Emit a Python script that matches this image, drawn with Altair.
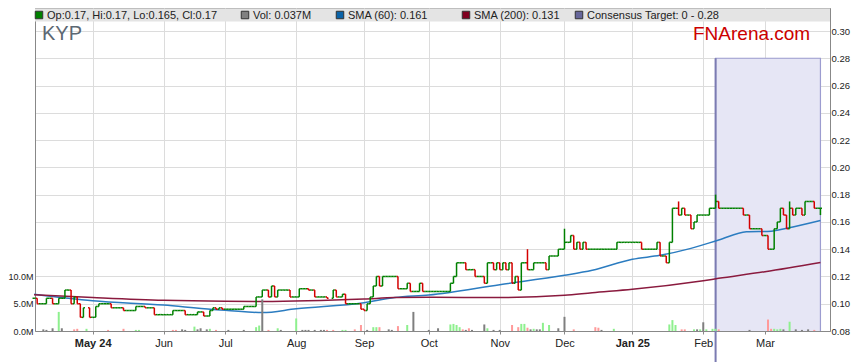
import altair as alt
import pandas as pd

# ---------------- data ----------------
dates = pd.bdate_range("2024-04-04", "2025-03-27")

close = [
    0.104, 0.100, 0.100, 0.100, 0.104, 0.104, 0.100, 0.100, 0.104, 0.104,   # 0-9
    0.110, 0.110, 0.100, 0.105, 0.100, 0.090, 0.097, None, 0.090, 0.090,    # 10-19
    0.098, 0.100, 0.100, 0.100, 0.100, 0.097, 0.097, 0.097, 0.097, 0.095,   # 20-29
    0.095, 0.095, 0.095, 0.098, 0.098, 0.098, 0.097, 0.097, 0.097, 0.092,   # 30-39
    0.092, 0.092, 0.092, 0.092, 0.092, 0.095, 0.095, 0.095, 0.095, 0.092,   # 40-49
    0.092, 0.092, 0.092, 0.094, 0.094, 0.091, 0.091, 0.095, 0.097, 0.096,   # 50-59
    0.097, 0.096, 0.096, 0.096, 0.096, 0.096, 0.096, 0.096, 0.098, 0.098,   # 60-69
    0.098, 0.098, 0.105, 0.105, 0.110, 0.110, 0.105, 0.113, 0.105, 0.110,   # 70-79
    0.110, 0.110, 0.110, 0.105, 0.105, 0.105, 0.111, 0.111, 0.111, 0.110,   # 80-89
    0.110, 0.105, 0.105, 0.105, 0.105, 0.104, None, 0.110, 0.105, 0.105,    # 90-99
    0.107, 0.100, 0.100, 0.100, 0.100, 0.100, 0.096, 0.095, 0.100, 0.105,   # 100-109
    0.113, 0.120, 0.113, 0.120, 0.120, 0.120, 0.120, 0.120, 0.111, 0.111,   # 110-119
    0.111, 0.115, 0.109, 0.109, 0.109, 0.115, 0.109, 0.109, 0.109, 0.109,   # 120-129
    0.109, 0.109, 0.109, 0.109, 0.109, 0.115, 0.120, 0.130, 0.130, 0.130,   # 130-139
    0.125, 0.125, 0.125, 0.120, 0.120, 0.120, 0.115, 0.130, 0.130, 0.125,   # 140-149
    0.130, 0.125, 0.130, 0.125, 0.130, 0.115, 0.120, 0.110, 0.130, 0.130,   # 150-159
    0.125, 0.125, 0.130, 0.130, 0.130, 0.130, 0.125, 0.135, 0.135, 0.135,   # 160-169
    0.140, 0.140, 0.145, 0.145, 0.150, 0.140, 0.145, 0.140, 0.145, 0.140,   # 170-179
    0.140, 0.140, 0.140, 0.140, 0.140, 0.140, 0.140, 0.140, 0.140, 0.145,   # 180-189
    0.145, 0.145, 0.145, 0.145, 0.145, 0.145, 0.145, 0.140, 0.140, 0.140,   # 190-199
    0.140, 0.140, 0.145, 0.135, 0.135, 0.130, 0.145, 0.170, 0.170, 0.165,   # 200-209
    0.170, 0.165, 0.165, 0.155, 0.160, 0.165, 0.165, 0.165, 0.165, 0.170,   # 210-219
    0.170, 0.175, 0.170, 0.170, 0.170, 0.170, 0.170, 0.170, 0.170, 0.170,   # 220-229
    0.165, 0.165, 0.155, 0.155, 0.155, 0.155, 0.150, 0.150, 0.140, 0.140,   # 230-239
    0.155, 0.160, 0.170, 0.165, 0.155, 0.170, 0.165, 0.170, 0.170, 0.165,   # 240-249
    0.175, 0.175, 0.175, 0.170, 0.170, 0.170,                               # 250-255
]
high_spikes = {160: 0.140, 172: 0.155, 175: 0.150, 209: 0.175, 221: 0.180, 245: 0.175}
low_spikes = {255: 0.165}

sma60_idx = [0, 19, 42, 58, 62, 74, 85, 107, 117, 128, 151, 172, 181, 194, 203, 213, 222, 231, 239, 244, 255]
sma60_val = [0.107, 0.1022, 0.099, 0.0957, 0.0952, 0.0935, 0.0963, 0.1008, 0.1045, 0.1064, 0.114,
             0.1208, 0.1245, 0.1326, 0.1355, 0.1406, 0.1467, 0.1528, 0.1532, 0.1553, 0.161]

sma200_idx = [0, 19, 42, 62, 74, 107, 117, 128, 151, 172, 181, 194, 217, 222, 237, 255]
sma200_val = [0.1065, 0.1045, 0.1025, 0.1018, 0.1017, 0.1035, 0.1045, 0.1048, 0.1045, 0.1062,
              0.1081, 0.1106, 0.1169, 0.1186, 0.1235, 0.1303]

# (trading-day index, volume in millions, colour code g=up r=down k=flat)
volume_bars = [
    (3, 0.3, "k"), (4, 0.2, "k"), (6, 0.5, "k"), (8, 3.5, "g"), (9, 0.5, "k"), (13, 0.3, "r"),
    (14, 0.4, "r"), (17, 0.4, "g"), (24, 0.2, "r"), (29, 0.4, "r"), (33, 0.2, "g"), (34, 0.2, "g"),
    (45, 0.2, "r"), (46, 0.2, "r"), (48, 0.3, "k"), (49, 0.2, "k"), (52, 0.8, "g"), (53, 0.3, "k"),
    (54, 0.5, "k"), (56, 0.3, "k"), (57, 0.4, "g"), (59, 0.2, "r"), (63, 0.2, "k"), (68, 0.2, "k"),
    (72, 0.7, "g"), (73, 1.0, "g"), (74, 5.8, "k"), (76, 0.2, "r"), (79, 0.5, "g"), (80, 0.2, "k"),
    (85, 2.3, "g"), (87, 0.2, "k"), (88, 0.2, "k"), (89, 0.2, "k"), (91, 0.2, "k"), (93, 0.2, "k"),
    (94, 0.2, "k"), (95, 0.2, "r"), (97, 0.2, "r"), (100, 0.2, "g"), (101, 0.2, "g"), (104, 0.3, "r"),
    (106, 1.1, "r"), (108, 0.2, "k"), (110, 0.7, "g"), (111, 0.7, "g"), (112, 0.7, "r"), (115, 0.3, "k"),
    (116, 0.2, "k"), (118, 0.9, "r"), (121, 1.1, "g"), (123, 3.5, "k"), (128, 0.2, "k"), (131, 0.5, "k"),
    (135, 1.2, "g"), (136, 1.3, "g"), (137, 1.1, "g"), (138, 0.7, "g"), (139, 0.3, "r"), (140, 0.2, "k"),
    (141, 0.5, "r"), (142, 0.2, "k"), (146, 1.2, "k"), (147, 0.5, "g"), (149, 0.2, "k"), (151, 0.2, "k"),
    (155, 1.1, "r"), (157, 0.7, "r"), (158, 1.3, "g"), (159, 1.3, "g"), (160, 0.6, "r"), (161, 0.3, "k"),
    (162, 0.4, "g"), (163, 0.3, "k"), (164, 0.3, "k"), (165, 1.5, "g"), (167, 1.1, "g"), (170, 0.5, "k"),
    (172, 2.6, "k"), (175, 0.3, "r"), (182, 0.7, "r"), (183, 0.6, "r"), (184, 0.2, "k"), (188, 0.4, "g"),
    (206, 1.2, "g"), (207, 2.0, "g"), (208, 1.1, "g"), (210, 0.3, "r"), (211, 0.3, "r"), (214, 0.3, "g"),
    (215, 0.3, "k"), (216, 0.3, "g"), (217, 1.6, "k"), (218, 0.3, "g"), (220, 0.4, "g"), (221, 0.4, "g"),
    (222, 0.3, "r"), (232, 0.2, "k"), (238, 2.1, "r"), (239, 0.4, "r"), (240, 0.4, "g"), (241, 0.3, "g"),
    (242, 0.4, "g"), (243, 0.3, "k"), (245, 1.7, "g"), (247, 0.3, "k"), (249, 0.2, "k"), (251, 0.3, "k"),
    (253, 0.2, "r"),
]

tick_labels = ["May 24", "Jun", "Jul", "Aug", "Sep", "Oct", "Nov", "Dec", "Jan 25", "Feb", "Mar"]

legend_items = ["Op:0.17, Hi:0.17, Lo:0.165, Cl:0.17", "Vol: 0.037M", "SMA (60): 0.161",
                "SMA (200): 0.131", "Consensus Target: 0 - 0.28"]
legend_colors = ["#008000", "#808080", "#0b63a8", "#800020", "#66669a"]

target_start, target_end = "2025-02-07", "2025-03-27"
target_low, target_high = 0.0, 0.28

# ---------------- styling / layout ----------------
GREEN, RED = "#008000", "#d40000"
VOLC = {"g": "#8ef08e", "r": "#ff9a9a", "k": "#7f7f7f"}
FONT = "Liberation Sans"
TOTAL_W = 843               # page width available inside the 8px margins
PAD_L = 27
PLOT_L = 8 + PAD_L          # page x of the plot's left edge
PLOT_R = 830                # page x of the plot's right edge
W, H = PLOT_R - PLOT_L, 323
PAD_R = TOTAL_W - PAD_L - W
PMIN, PMAX = 0.08, 0.08 + H * 0.22 / 300
VMAX = H / (300 / 11) * 5
LEG_X = [35, 241, 336, 462, 575]   # page x of legend squares

# ---------------- frames ----------------
rows, prev = [], None
for i, c in enumerate(close):
    if c is None:
        continue
    o = prev if prev is not None else c
    col = GREEN if c >= o else RED
    rows.append(dict(i=i, il=i - 0.5, ir=i + 0.5, o=o, c=c,
                     h=max(o, c, high_spikes.get(i, 0)), l=min(o, c, low_spikes.get(i, 1)), col=col))
    prev = c
ohlc = pd.DataFrame(rows)

vol = pd.DataFrame(volume_bars, columns=["i", "vol", "code"])
vol["col"] = vol["code"].map(VOLC)
sma60 = pd.DataFrame({"i": sma60_idx, "v": sma60_val})
sma200 = pd.DataFrame({"i": sma200_idx, "v": sma200_val})
date_pos = {d.strftime("%Y-%m-%d"): k for k, d in enumerate(dates)}
target = pd.DataFrame([{"a": date_pos[target_start], "b": date_pos[target_end],
                        "lo": target_low, "hi": target_high}])
one = pd.DataFrame({"k": [0]})

month_idx = [k for k in range(1, len(dates)) if dates[k].month != dates[k - 1].month]
bold_idx = [month_idx[k] for k, lab in enumerate(tick_labels) if " " in lab]
lab_js = "[" + ",".join(f"'{t}'" for t in tick_labels) + "]"
idx_js = "[" + ",".join(str(v) for v in month_idx) + "]"
bold_js = "[" + ",".join(str(v) for v in bold_idx) + "]"

xscale = alt.Scale(domain=[0.3, 258.1], nice=False, zero=False, padding=0)
xaxis = alt.Axis(values=month_idx, labelExpr=f"{lab_js}[indexof({idx_js}, datum.value)]",
                 labelFontWeight=alt.ExprRef(expr=f"indexof({bold_js}, datum.value) >= 0 ? 'bold' : 'normal'"),
                 grid=True, title=None, tickSize=3, labelPadding=3, labelFlush=False)
pscale = alt.Scale(domain=[PMIN, PMAX], nice=False, zero=False, padding=0)
paxis = alt.Axis(orient="right", values=[round(0.08 + 0.02 * k, 2) for k in range(12)], format=".2f",
                 grid=True, title=None, tickSize=0, labelPadding=1, labelFontSize=9.5)


def X(f):
    return alt.X(f"{f}:Q", scale=xscale, axis=xaxis)


def PY(f):
    return alt.Y(f"{f}:Q", scale=pscale, axis=paxis)


box = alt.Chart(target).mark_rect(fill="#e6e6f5", stroke="#9c9cd0", strokeWidth=1.2, clip=True).encode(
    x=X("a"), x2="b:Q", y=PY("hi"), y2="lo:Q")
box_edge = alt.Chart(target).mark_rule(color="#7b7bb2", strokeWidth=2).encode(
    x=X("a"), y=PY("hi"), y2=alt.value(354))

s60 = alt.Chart(sma60).mark_line(color="#2b7cc0", strokeWidth=1.5, interpolate="monotone").encode(
    x=X("i"), y=PY("v"))
s200 = alt.Chart(sma200).mark_line(color="#8a1a3e", strokeWidth=1.5, interpolate="monotone").encode(
    x=X("i"), y=PY("v"))

bar_v = alt.Chart(ohlc).mark_rule(strokeWidth=1.5).encode(
    x=X("i"), y=PY("l"), y2="h:Q", color=alt.Color("col:N", scale=None))
bar_o = alt.Chart(ohlc).mark_rule(strokeWidth=1.5).encode(
    x=X("il"), x2="i:Q", y=PY("o"), color=alt.Color("col:N", scale=None))
bar_c = alt.Chart(ohlc).mark_rule(strokeWidth=1.5).encode(
    x=X("i"), x2="ir:Q", y=PY("c"), color=alt.Color("col:N", scale=None))

band = alt.Chart(one).mark_rect(fill="#e4e4e4").encode(
    x=alt.value(0), x2=alt.value(W), y=alt.value(0.5), y2=alt.value(13.5))

legend_layers = []
for lx, item, colr in zip(LEG_X, legend_items, legend_colors):
    legend_layers.append(alt.Chart(one).mark_square(size=56, fill=colr, stroke="#333333", strokeWidth=1,
                                                    opacity=1).encode(
        x=alt.value(lx - PLOT_L + 4), y=alt.value(7)))
    legend_layers.append(alt.Chart(one).mark_text(text=item, font=FONT, fontSize=11, color="#222222",
                                                  align="left", baseline="middle").encode(
        x=alt.value(lx - PLOT_L + 12), y=alt.value(7.5)))

kyp = alt.Chart(one).mark_text(text="KYP", font=FONT, fontSize=20, color="#5c6873", align="left",
                               baseline="alphabetic").encode(x=alt.value(42 - PLOT_L), y=alt.value(32))
fna = alt.Chart(one).mark_text(text="FNArena.com", font=FONT, fontSize=19, color="#cc0000", align="left",
                               baseline="alphabetic").encode(x=alt.value(693 - PLOT_L), y=alt.value(31.5))

price = alt.layer(box, box_edge, s60, s200, bar_v, bar_o, bar_c, band, kyp, fna, *legend_layers)

volume = alt.Chart(vol).mark_bar(size=2).encode(
    x=X("i"),
    y=alt.Y("vol:Q", scale=alt.Scale(domain=[0, VMAX], nice=False, zero=True, padding=0),
            axis=alt.Axis(orient="left", values=[0, 5, 10], labelExpr="format(datum.value, '.1f') + 'M'",
                          grid=False, title=None, tickSize=0, labelPadding=2, labelFontSize=9)),
    color=alt.Color("col:N", scale=None))

chart = alt.layer(price, volume).resolve_scale(y="independent").properties(
    width=W, height=H,
    autosize=alt.AutoSizeParams(type="none"),
    padding={"left": PAD_L, "top": 0, "right": PAD_R, "bottom": 32},
).configure_view(stroke="#999999", strokeWidth=1).configure_axis(
    labelFont=FONT, labelFontSize=11, labelColor="#222222", domainColor="#888888",
    gridColor="#dcdcdc", tickColor="#888888")

chart.save("out.html", embed_options={"renderer": "svg", "actions": False})
